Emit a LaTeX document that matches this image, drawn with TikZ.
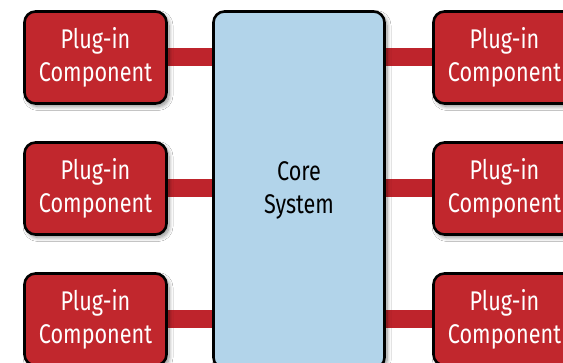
\documentclass[tikz,border=0pt]{standalone}
\usepackage{fontspec}
\setmainfont{Fira Sans}[FakeStretch=0.8]
\usetikzlibrary{shadows.blur,backgrounds}
\definecolor{plugred}{RGB}{193,39,45}
\definecolor{barred}{RGB}{190,36,44}
\definecolor{coreblue}{RGB}{178,212,234}
\tikzset{
  boxbase/.style={draw=black, line width=2.6pt, rounded corners=11pt,
    align=center, font=\fontsize{27}{33}\selectfont,
    blur shadow={shadow xshift=2.5pt, shadow yshift=-3pt,
      shadow blur radius=4pt, shadow blur steps=8, shadow opacity=45}},
  plugin/.style={boxbase, fill=plugred, text=white,
    minimum width=142pt, minimum height=92pt},
  core/.style={boxbase, fill=coreblue, text=black,
    minimum width=171pt, minimum height=357pt},
  link/.style={draw=barred, line width=18pt}
}
\begin{document}
\begin{tikzpicture}[x=1pt, y=-1pt]
  \useasboundingbox (0,0) rectangle (563,363);

  % central core
  \node[core] (core) at (299,190) {Core\\System};

  % plug-in components on both sides
  \node[plugin] (l1) at (95.5,57.5)  {Plug-in\\Component};
  \node[plugin] (l2) at (95.5,188.5) {Plug-in\\Component};
  \node[plugin] (l3) at (95.5,319.5) {Plug-in\\Component};
  \node[plugin] (r1) at (504.5,57.5)  {Plug-in\\Component};
  \node[plugin] (r2) at (504.5,188.5) {Plug-in\\Component};
  \node[plugin] (r3) at (504.5,319.5) {Plug-in\\Component};

  % white page and connecting bars behind the boxes
  \begin{pgfonlayer}{background}
    \fill[white] (0,0) rectangle (563,363);
    \foreach \n in {1,2,3} {
      \draw[link] (l\n.center) -- (l\n.center -| core.center);
      \draw[link] (r\n.center) -- (r\n.center -| core.center);
    }
  \end{pgfonlayer}
\end{tikzpicture}
\end{document}
